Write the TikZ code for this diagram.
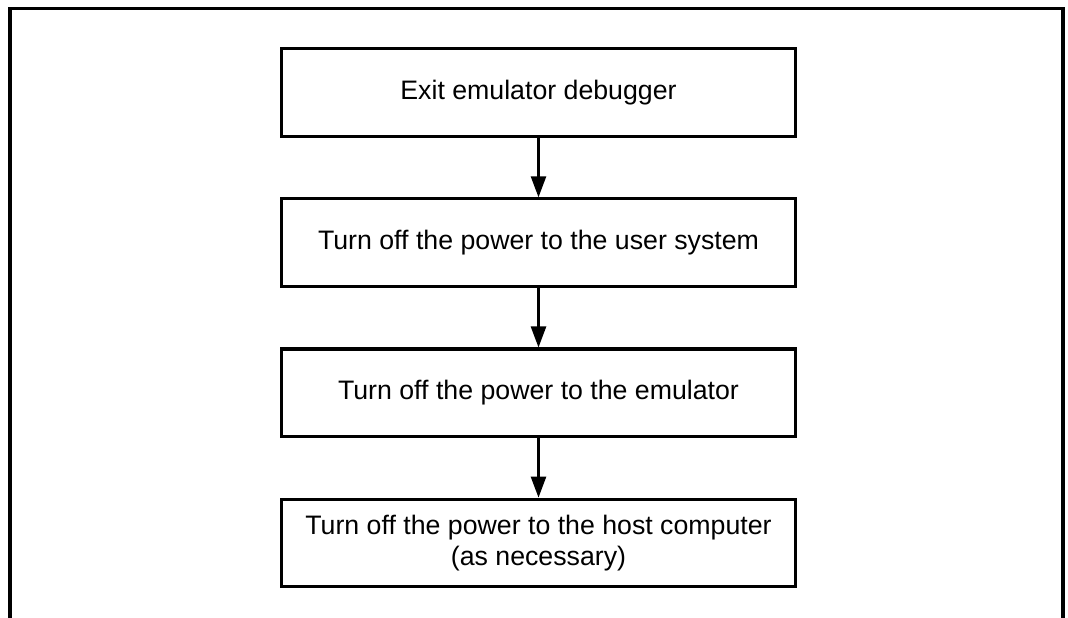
\documentclass[tikz,border=0pt]{standalone}
\usepackage{fontspec}
\setmainfont{Liberation Sans}
\usetikzlibrary{arrows.meta,positioning}

\begin{document}
\begin{tikzpicture}[
  every node/.style={align=center, font=\fontsize{15.2}{18}\selectfont},
  box/.style={rectangle, draw, line width=1.8pt, minimum width=10.29cm, minimum height=1.75cm, inner sep=4pt},
  arrow/.style={-{Triangle[length=0.42cm, width=0.3cm]}, line width=1.4pt},
  node distance=1.19cm
]
\useasboundingbox (0,0) rectangle (21.36,12.36);

% Outer frame, open at the bottom
\draw[line width=1.8pt] (0.2,0) |- (21.26,12.19) -- (21.26,0);

% Steps
\node[box] (exitdbg) at (10.77,10.51) {Exit emulator debugger};
\node[box, below=of exitdbg] (usersys) {Turn off the power to the user system};
\node[box, below=of usersys] (emul) {Turn off the power to the emulator};
\node[box, below=of emul] (host) {Turn off the power to the host computer\\(as necessary)};

% Arrows
\draw[arrow] (exitdbg.south) -- (usersys.north);
\draw[arrow] (usersys.south) -- (emul.north);
\draw[arrow] (emul.south) -- (host.north);

\end{tikzpicture}
\end{document}
